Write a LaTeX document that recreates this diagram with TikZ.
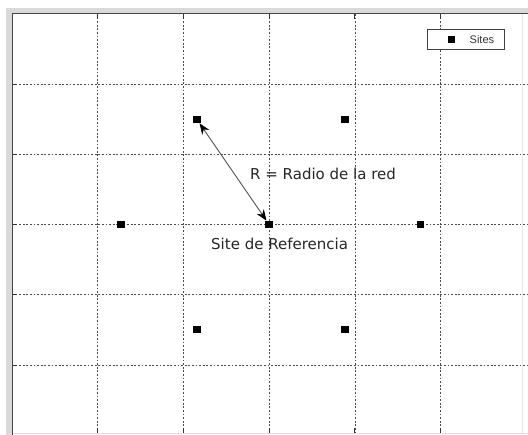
\documentclass[tikz,border=0pt]{standalone}
\usepackage{fontspec}
\setmainfont{DejaVu Sans}
\newfontfamily\legfont{Liberation Sans}
\usetikzlibrary{arrows.meta}
\tikzset{
  gridline/.style={gray!60!black, line width=0.7pt, dash pattern=on 1.8pt off 1.8pt},
  tickmark/.style={gray!40!black, line width=0.8pt},
  site/.style={rectangle, fill=black, inner sep=0pt, minimum size=7.5pt},
  lbl/.style={font=\fontsize{15}{17}\selectfont, text=black!85, inner sep=0pt},
  radius/.style={gray!65!black, line width=0.9pt, {Stealth[black,length=11pt,width=8.5pt,inset=3.5pt]}-{Stealth[black,length=11pt,width=8.5pt,inset=3.5pt]}},
  legendbox/.style={draw=gray!50!black, fill=white, line width=0.8pt}
}
\begin{document}
\begin{tikzpicture}[x=1pt,y=-1pt]
\useasboundingbox (0,0) rectangle (528,435);
\fill[white] (0,0) rectangle (528,435);
% window frame
\fill[gray!30] (6,8) rectangle (528,14);
\fill[gray!30] (6,8) rectangle (12,435);
\draw[gray!25, line width=1pt] (6,433.5) -- (528,433.5);
\draw[gray!20, line width=0.8pt] (522,14) -- (522,433);
% grid
\foreach \i in {1,...,5} {
  \pgfmathsetmacro{\xx}{12+85.72*\i}
  \pgfmathsetmacro{\yy}{14+70.2*\i}
  \draw[gridline] (\xx,14) -- (\xx,433);
  \draw[gridline] (12,\yy) -- (528,\yy);
  \draw[tickmark] (\xx,14) -- (\xx,19);
  \draw[tickmark] (\xx,433) -- (\xx,428);
  \draw[tickmark] (12,\yy) -- (17,\yy);
}
% axes border
\draw[gray!55!black, line width=1pt] (12,435) -- (12,14) -- (528,14);
% sites
\node[site] (s0) at (269.2,224.6) {};
\node[site] (s1) at (196.8,119.3) {};
\node[site] (s2) at (344.8,119.3) {};
\node[site] (s3) at (121,224.6) {};
\node[site] (s4) at (420.3,224.6) {};
\node[site] (s5) at (196.8,329.3) {};
\node[site] (s6) at (344.8,329.3) {};
% radius arrow
\draw[radius] (s1) -- (s0);
% labels
\node[lbl, anchor=base west] (rlab) at (250,180) {R = Radio de la red};
\node[lbl, anchor=base west] (slab) at (211,250) {Site de Referencia};
% legend
\node[legendbox, minimum width=77pt, minimum height=20pt, inner sep=0pt] (leg) at (465.5,39.5) {};
\node[site, minimum size=7pt] (legsite) at (451,39.5) {};
\node[font=\legfont\fontsize{11}{12}\selectfont, text=black!80, inner sep=0pt, anchor=west] (legtxt) at (469.5,40) {Sites};
\end{tikzpicture}
\end{document}
